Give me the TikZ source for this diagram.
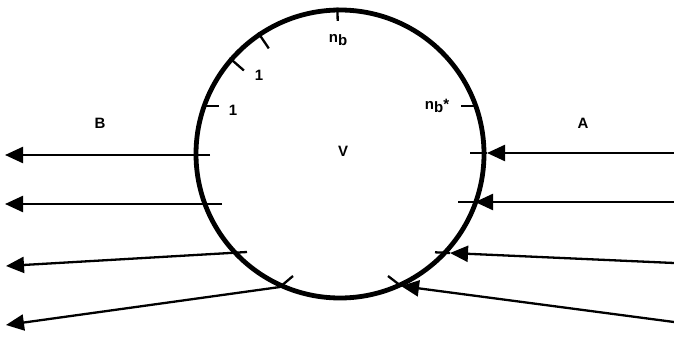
\documentclass[tikz,border=0pt]{standalone}
\usepackage{fontspec}
\setmainfont{Liberation Sans}
\usetikzlibrary{arrows.meta,calc}
\begin{document}
\begin{tikzpicture}[x=1pt,y=-1pt]
\tikzset{
  flow/.style={line width=2.3pt},
  headed/.style={line width=2.3pt,-{Triangle[length=18pt,width=16pt]}},
  tickmark/.style={line width=2.3pt},
  lbl/.style={font=\fontsize{15}{17}\selectfont\bfseries, inner sep=0pt}
}
\useasboundingbox (0,0) rectangle (674,339);
\node[circle, draw, line width=4.8pt, minimum size=288pt, inner sep=0pt] (V) at (340,154) {};
\node[lbl] (Vl) at (343,151) {V};
\node[lbl] (Bl) at (100,123) {B};
\node[lbl] (Al) at (583,123) {A};
\node[lbl] (nb) at (338,40) {n\raisebox{-3pt}{b}};
\node[lbl] (nbs) at (437,106) {n\raisebox{-3pt}{b}*};
\node[lbl] (one1) at (259,75) {1};
\node[lbl] (one2) at (233,110) {1};
% ticks on the circle
\draw[tickmark] (V.91) -- ($(V.center)!0.91!(V.91)$);
\draw[tickmark] (V.124) -- ($(V.center)!0.87!(V.124)$);
\draw[tickmark] (V.139) -- ($(V.center)!0.87!(V.139)$);
\draw[tickmark] (V.161) -- ++(17,0);
\draw[tickmark] (V.19.5) -- ++(-17,0);
% B side (outgoing, left)
\coordinate (l1s) at (210,155); \coordinate (l1e) at (5,155);
\coordinate (l2s) at (222,204); \coordinate (l2e) at (5,204);
\coordinate (l3s) at (247,252); \coordinate (l3e) at (6,266);
\coordinate (l4k) at (293,276); \coordinate (l4s) at (280,287); \coordinate (l4e) at (6,325);
\draw[headed] (l1s) -- (l1e);
\draw[headed] (l2s) -- (l2e);
\draw[headed] (l3s) -- (l3e);
\draw[headed] (l4s) -- (l4e);
\draw[tickmark] (l4s) -- (l4k);
% A side (incoming, right)
\coordinate (r1s) at (674,153); \coordinate (r1t) at (487,153); \coordinate (r1e) at (470,153);
\coordinate (r2s) at (674,202); \coordinate (r2t) at (475,202); \coordinate (r2e) at (458,202);
\coordinate (r3s) at (674,263); \coordinate (r3t) at (450,253); \coordinate (r3e) at (435,252.3);
\coordinate (r4s) at (674,322); \coordinate (r4t) at (401,286); \coordinate (r4e) at (388,276);
\draw[headed] (r1s) -- (r1t); \draw[flow] (r1t) -- (r1e);
\draw[headed] (r2s) -- (r2t); \draw[flow] (r2t) -- (r2e);
\draw[headed] (r3s) -- (r3t); \draw[flow] (r3t) -- (r3e);
\draw[headed] (r4s) -- (r4t); \draw[flow] (r4t) -- (r4e);
\end{tikzpicture}
\end{document}
